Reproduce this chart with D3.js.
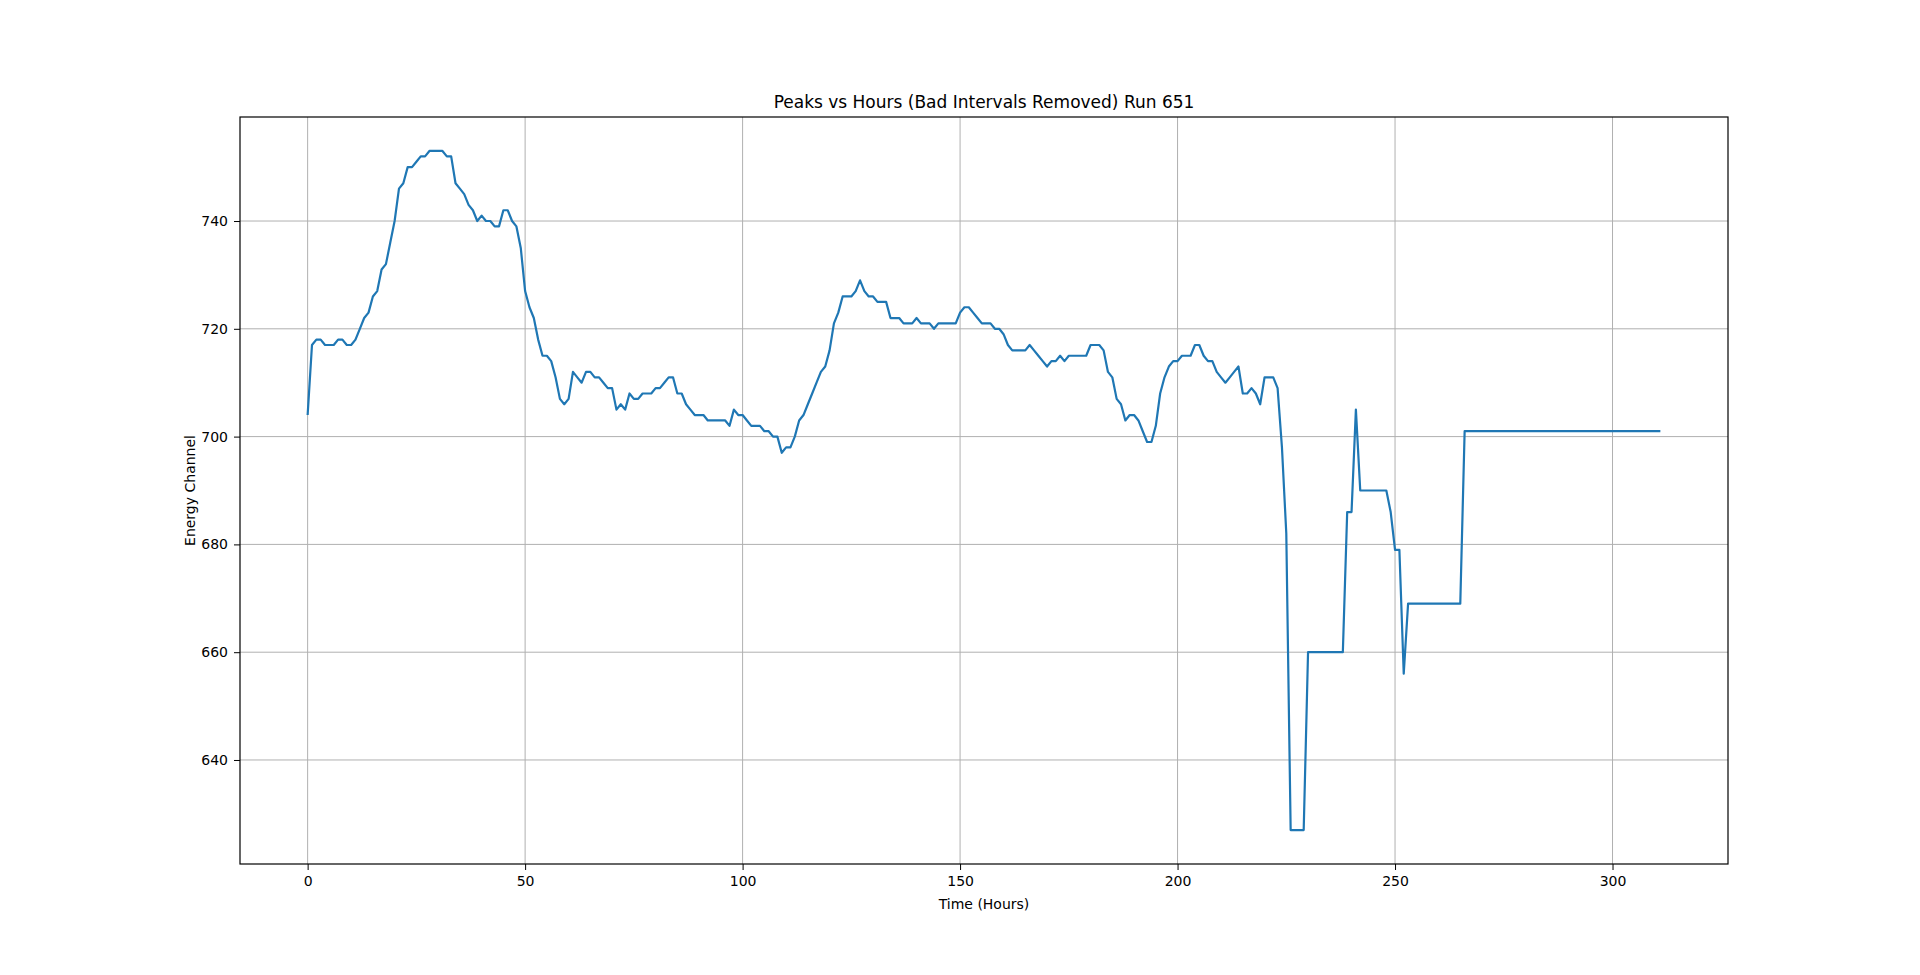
<!DOCTYPE html>
<html>
<head>
<meta charset="utf-8">
<script src="https://cdn.jsdelivr.net/npm/d3@7"></script>
<style>
  body { margin: 0; background: #fff; }
  text { font-family: "DejaVu Sans", sans-serif; }
</style>
</head>
<body>
<svg id="chart" width="1920" height="975"></svg>
<script>
const title = "Peaks vs Hours (Bad Intervals Removed) Run 651";
const xLabel = "Time (Hours)";
const yLabel = "Energy Channel";
const xTicks = [0, 50, 100, 150, 200, 250, 300];
const yTicks = [640, 660, 680, 700, 720, 740];

// peak channel for each hour, starting at hour 0
const peaks = [
  704, 717, 718, 718, 717, 717, 717, 718, 718, 717,
  717, 718, 720, 722, 723, 726, 727, 731, 732, 736,
  740, 746, 747, 750, 750, 751, 752, 752, 753, 753,
  753, 753, 752, 752, 747, 746, 745, 743, 742, 740,
  741, 740, 740, 739, 739, 742, 742, 740, 739, 735,
  727, 724, 722, 718, 715, 715, 714, 711, 707, 706,
  707, 712, 711, 710, 712, 712, 711, 711, 710, 709,
  709, 705, 706, 705, 708, 707, 707, 708, 708, 708,
  709, 709, 710, 711, 711, 708, 708, 706, 705, 704,
  704, 704, 703, 703, 703, 703, 703, 702, 705, 704,
  704, 703, 702, 702, 702, 701, 701, 700, 700, 697,
  698, 698, 700, 703, 704, 706, 708, 710, 712, 713,
  716, 721, 723, 726, 726, 726, 727, 729, 727, 726,
  726, 725, 725, 725, 722, 722, 722, 721, 721, 721,
  722, 721, 721, 721, 720, 721, 721, 721, 721, 721,
  723, 724, 724, 723, 722, 721, 721, 721, 720, 720,
  719, 717, 716, 716, 716, 716, 717, 716, 715, 714,
  713, 714, 714, 715, 714, 715, 715, 715, 715, 715,
  717, 717, 717, 716, 712, 711, 707, 706, 703, 704,
  704, 703, 701, 699, 699, 702, 708, 711, 713, 714,
  714, 715, 715, 715, 717, 717, 715, 714, 714, 712,
  711, 710, 711, 712, 713, 708, 708, 709, 708, 706,
  711, 711, 711, 709, 698, 682, 627, 627, 627, 627,
  660, 660, 660, 660, 660, 660, 660, 660, 660, 686,
  686, 705, 690, 690, 690, 690, 690, 690, 690, 686,
  679, 679, 656, 669, 669, 669, 669, 669, 669, 669,
  669, 669, 669, 669, 669, 669, 701, 701, 701, 701,
  701, 701, 701, 701, 701, 701, 701, 701, 701, 701,
  701, 701, 701, 701, 701, 701, 701, 701, 701, 701,
  701, 701, 701, 701, 701, 701, 701, 701, 701, 701,
  701, 701, 701, 701, 701, 701, 701, 701, 701, 701,
  701, 701
];
const hours = peaks.map((d, i) => i);

const margin = { top: 117, right: 192, bottom: 111, left: 240 };
const W = 1920, H = 975;
const width = W - margin.left - margin.right;
const height = H - margin.top - margin.bottom;

const svg = d3.select("#chart");
const g = svg.append("g").attr("transform", `translate(${margin.left},${margin.top})`);

// matplotlib style 5% padding
const xMin = d3.min(hours), xMax = d3.max(hours);
const yMin = d3.min(peaks), yMax = d3.max(peaks);
const xPad = (xMax - xMin) * 0.05, yPad = (yMax - yMin) * 0.05;

const x = d3.scaleLinear().domain([xMin - xPad, xMax + xPad]).range([0, width]);
const y = d3.scaleLinear().domain([yMin - yPad, yMax + yPad]).range([height, 0]);

// grid
g.append("g").selectAll("line").data(xTicks).enter().append("line")
  .attr("x1", d => x(d)).attr("x2", d => x(d)).attr("y1", 0).attr("y2", height)
  .attr("stroke", "#b0b0b0").attr("stroke-width", 1);
g.append("g").selectAll("line").data(yTicks).enter().append("line")
  .attr("y1", d => y(d)).attr("y2", d => y(d)).attr("x1", 0).attr("x2", width)
  .attr("stroke", "#b0b0b0").attr("stroke-width", 1);

// line
const line = d3.line().x((d, i) => x(hours[i])).y(d => y(d));
g.append("path").datum(peaks)
  .attr("fill", "none").attr("stroke", "#1f77b4").attr("stroke-width", 2.2)
  .attr("stroke-linejoin", "round")
  .attr("d", line);

// axes
const xAxis = g.append("g").attr("transform", `translate(0,${height})`)
  .call(d3.axisBottom(x).tickValues(xTicks).tickSize(6).tickPadding(6));
const yAxis = g.append("g")
  .call(d3.axisLeft(y).tickValues(yTicks).tickSize(6).tickPadding(6));
[xAxis, yAxis].forEach(a => {
  a.select(".domain").remove();
  a.selectAll("text").style("font-size", "14px").attr("fill", "#000").style("font-family", "DejaVu Sans");
  a.selectAll("line").attr("stroke", "#000");
});

g.append("rect").attr("width", width).attr("height", height)
  .attr("fill", "none").attr("stroke", "#000").attr("stroke-width", 1.2);

svg.append("text").attr("x", margin.left + width / 2).attr("y", 108)
  .attr("text-anchor", "middle").style("font-size", "17px").text(title);
svg.append("text").attr("x", margin.left + width / 2).attr("y", 909)
  .attr("text-anchor", "middle").style("font-size", "14px").text(xLabel);
svg.append("text").attr("transform", `translate(195,${margin.top + height / 2}) rotate(-90)`)
  .attr("text-anchor", "middle").style("font-size", "14px").text(yLabel);
</script>
</body>
</html>
